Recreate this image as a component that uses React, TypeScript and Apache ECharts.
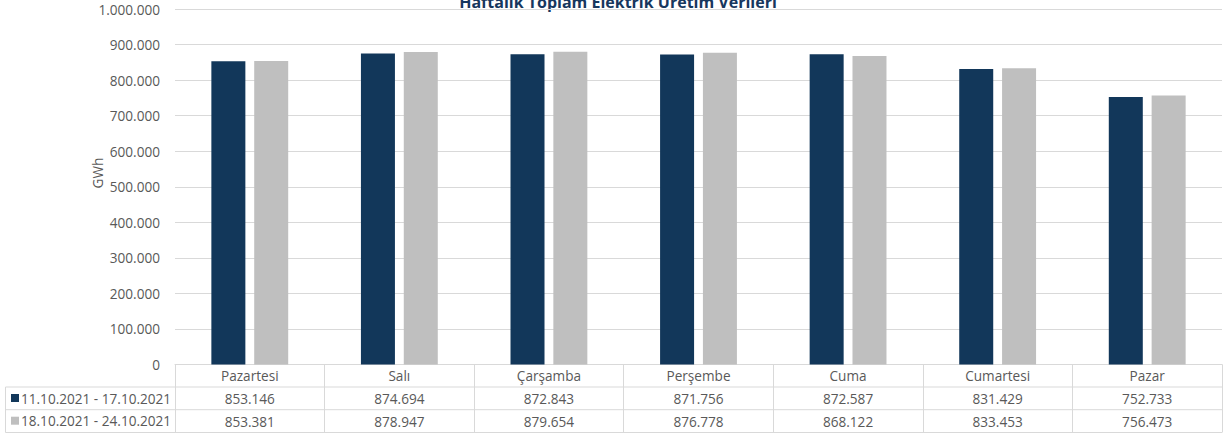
import React, { useEffect, useRef } from "react";
import * as echarts from "echarts";

const categories = ["Pazartesi", "Salı", "Çarşamba", "Perşembe", "Cuma", "Cumartesi", "Pazar"];
const seriesNames = ["11.10.2021 - 17.10.2021", "18.10.2021 - 24.10.2021"];
const week1 = [853146, 874694, 872843, 871756, 872587, 831429, 752733];
const week2 = [853381, 878947, 879654, 876778, 868122, 833453, 756473];
const colors = ["#12375A", "#BFBFBF"];
const titleText = "Haftalık Toplam Elektrik Üretim Verileri";
const yAxisName = "GWh";

const W = 1223;
const H = 439;
const GRID_LEFT = 175;
const GRID_RIGHT = 1222;
const GRID_TOP = 9;
const GRID_BOTTOM = 364.5;
const ROW1 = 387;
const ROW2 = 409.7;
const TABLE_BOTTOM = 432.5;
const LEG_LEFT = 5.5;
const FONT = "'Open Sans', sans-serif";
const FS = 13.6;
const TEXT_COLOR = "#595959";
const LINE_COLOR = "#D9D9D9";

const fmt = (v: number) => String(Math.round(v)).replace(/\B(?=(\d{3})+(?!\d))/g, ".");

export default function App() {
  const ref = useRef<HTMLDivElement>(null);
  useEffect(() => {
    if (!ref.current) return;
    const chart = echarts.init(ref.current, undefined, { renderer: "svg" });
    const colW = (GRID_RIGHT - GRID_LEFT) / categories.length;
    const graphics: any[] = [];
    const hline = (x1: number, x2: number, y: number) => ({
      type: "line",
      shape: { x1, y1: y, x2, y2: y },
      style: { stroke: LINE_COLOR, lineWidth: 1 },
      silent: true,
    });
    const vline = (x: number, y1: number, y2: number) => ({
      type: "line",
      shape: { x1: x, y1, x2: x, y2 },
      style: { stroke: LINE_COLOR, lineWidth: 1 },
      silent: true,
    });
    graphics.push(hline(LEG_LEFT, GRID_RIGHT, ROW1));
    graphics.push(hline(LEG_LEFT, GRID_RIGHT, ROW2));
    graphics.push(hline(LEG_LEFT, GRID_RIGHT, TABLE_BOTTOM));
    graphics.push(vline(LEG_LEFT, ROW1, TABLE_BOTTOM));
    [week1, week2].forEach((arr, r) => {
      const yc = r === 0 ? (ROW1 + ROW2) / 2 : (ROW2 + TABLE_BOTTOM) / 2;
      arr.forEach((v, i) => {
        graphics.push({
          type: "text",
          x: GRID_LEFT + colW * (i + 0.5),
          y: yc,
          style: {
            text: fmt(v),
            fill: TEXT_COLOR,
            font: `${FS}px ${FONT}`,
            textAlign: "center",
            textVerticalAlign: "middle",
          },
          silent: true,
        });
      });
    });
    graphics.push({
      type: "text",
      x: 97,
      y: 173,
      rotation: Math.PI / 2,
      style: {
        text: yAxisName,
        fill: TEXT_COLOR,
        font: `${FS}px ${FONT}`,
        textAlign: "center",
        textVerticalAlign: "middle",
      },
      silent: true,
    });
    graphics.push({
      type: "text",
      x: 618,
      y: 10,
      style: {
        text: titleText,
        fill: "#17375E",
        font: `bold 16px ${FONT}`,
        textAlign: "center",
        textVerticalAlign: "bottom",
      },
      silent: true,
    });

    chart.setOption({
      animation: false,
      grid: {
        left: GRID_LEFT,
        right: W - GRID_RIGHT,
        top: GRID_TOP,
        bottom: H - GRID_BOTTOM,
        containLabel: false,
      },
      legend: {
        orient: "vertical",
        left: 11,
        top: ROW1 + 3,
        itemWidth: 8,
        itemHeight: 8,
        itemGap: 6.7,
        icon: "rect",
        data: seriesNames,
        textStyle: { color: TEXT_COLOR, fontSize: FS, fontFamily: FONT, lineHeight: 16, padding: [0, 0, 0, -3] },
        padding: 0,
        selectedMode: false,
      },
      xAxis: {
        type: "category",
        data: categories,
        axisLine: { show: true, lineStyle: { color: LINE_COLOR } },
        axisTick: {
          show: true,
          length: TABLE_BOTTOM - GRID_BOTTOM,
          lineStyle: { color: LINE_COLOR },
        },
        axisLabel: {
          color: TEXT_COLOR,
          fontSize: FS,
          fontFamily: FONT,
          margin: 4,
        },
      },
      yAxis: {
        type: "value",
        min: 0,
        max: 1000000,
        interval: 100000,
        axisLine: { show: false },
        axisTick: { show: false },
        splitLine: { lineStyle: { color: LINE_COLOR } },
        axisLabel: {
          color: TEXT_COLOR,
          fontSize: FS,
          fontFamily: FONT,
          margin: 15,
          formatter: (v: number) => fmt(v),
        },
      },
      series: [
        {
          name: seriesNames[0],
          type: "bar",
          data: week1,
          barWidth: 34,
          barGap: "26%",
          itemStyle: { color: colors[0] },
        },
        {
          name: seriesNames[1],
          type: "bar",
          data: week2,
          barWidth: 34,
          itemStyle: { color: colors[1] },
        },
      ],
      graphic: graphics,
    });
    return () => chart.dispose();
  }, []);
  return (
    <div
      ref={ref}
      style={{ position: "fixed", left: 0, top: 0, width: W, height: H, background: "#fff" }}
    />
  );
}
